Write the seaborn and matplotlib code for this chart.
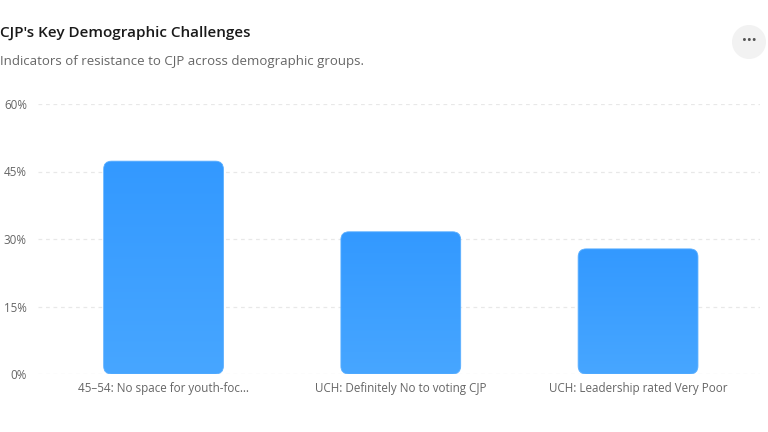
import numpy as np
import pandas as pd
import matplotlib
matplotlib.use("Agg")
import matplotlib.pyplot as plt
import seaborn as sns
from matplotlib.patches import FancyBboxPatch, Circle
from matplotlib.colors import LinearSegmentedColormap

# data
categories = ["45–54: No space for youth-foc…",
              "UCH: Definitely No to voting CJP",
              "UCH: Leadership rated Very Poor"]
values = [47.3, 31.6, 27.8]
y_ticks = [0, 15, 30, 45, 60]
tick_labels = ["0%", "15%", "30%", "45%", "60%"]

df = pd.DataFrame({"label": categories, "value": values})

sns.set_theme(style="white")
plt.rcParams["font.family"] = ["Open Sans", "DejaVu Sans"]

fig = plt.figure(figsize=(7.68, 4.32), dpi=100)
ax = fig.add_axes([38 / 768, 1 - 374 / 432, 722 / 768, 270 / 432])

sns.barplot(data=df, x="label", y="value", ax=ax, color="#3399ff", width=0.505)

ax.set_xlim(-0.529, 2.514)
ax.set_ylim(0, 60)
ax.set_yticks(y_ticks)
ax.set_yticklabels(tick_labels)
ax.set_xlabel("")
ax.set_ylabel("")
ax.tick_params(axis="both", length=0, labelsize=8.4, colors="#666666")
ax.tick_params(axis="y", pad=8)
ax.tick_params(axis="x", pad=6)
for s in ax.spines.values():
    s.set_visible(False)
for yv in y_ticks:
    ax.axhline(yv, color="#e8e8e8", lw=0.9, ls=(0, (3, 3)), zorder=0)

# swap square bars for rounded ones filled with a soft vertical gradient
px_x = 722 / (2.514 + 0.529)
px_y = 270 / 60
cmap = LinearSegmentedColormap.from_list("blu", ["#47a6ff", "#3399ff"])
grad = np.linspace(0, 1, 256).reshape(-1, 1)
for bar in list(ax.patches):
    x0, w, h = bar.get_x(), bar.get_width(), bar.get_height()
    bar.remove()
    r = 8 / px_x
    shape = FancyBboxPatch((x0, 0), w, h,
                           boxstyle=f"round,pad=0,rounding_size={r}",
                           mutation_aspect=px_x / px_y,
                           facecolor="none", edgecolor="#5aafff", lw=0.6, zorder=3)
    ax.add_patch(shape)
    im = ax.imshow(grad, extent=(x0, x0 + w, 0, h), origin="lower",
                   cmap=cmap, aspect="auto", zorder=2)
    im.set_clip_path(shape)
ax.set_xlim(-0.529, 2.514)
ax.set_ylim(0, 60)

fig.text(0, 1 - 33 / 432, "CJP's Key Demographic Challenges", fontsize=11,
         fontweight="semibold", color="#1a1a1a", va="center", ha="left")
fig.text(0, 1 - 62 / 432, "Indicators of resistance to CJP across demographic groups.",
         fontsize=9.5, color="#666666", va="center", ha="left")

# menu button top right
btn = Circle((7.49, 4.32 - 0.42), 0.17, transform=fig.dpi_scale_trans,
             facecolor="#f2f2f2", edgecolor="none")
fig.patches.append(btn)
fig.text(749 / 768, 1 - 41 / 432, "···", fontsize=12, fontweight="bold",
         color="#555555", ha="center", va="center")

fig.savefig("out.png", dpi=100)
